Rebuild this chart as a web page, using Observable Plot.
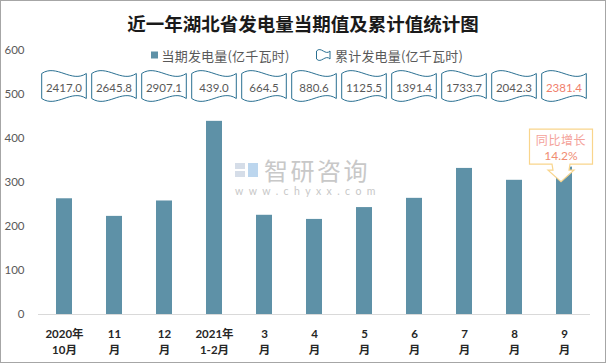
<!DOCTYPE html>
<html><head><meta charset="utf-8">
<script src="https://cdn.jsdelivr.net/npm/d3@7"></script>
<script src="https://cdn.jsdelivr.net/npm/@observablehq/plot@0.6"></script>
<style>body{margin:0;background:#fff} #chart svg{display:block}</style>
</head><body><div id="chart"></div>
<script>
const months = ["2020年\n10月","11\n月","12\n月","2021年\n1-2月","3\n月","4\n月","5\n月","6\n月","7\n月","8\n月","9\n月"];
const current = [263, 223, 258, 439, 225.5, 216.1, 243, 264, 332, 305, 335];
const cumulative = [2417.0, 2645.8, 2907.1, 439.0, 664.5, 880.6, 1125.5, 1391.4, 1733.7, 2042.3, 2381.4];
const highlightIndex = 10;
const yTicks = [0, 100, 200, 300, 400, 500, 600];
const titleText = "近一年湖北省发电量当期值及累计值统计图";
const legendCurrent = "当期发电量(亿千瓦时)";
const legendCumulative = "累计发电量(亿千瓦时)";
const calloutLabel = "同比增长";
const calloutValue = "14.2%";
const watermarkMain = "智研咨询";
const watermarkSub = "www.chyxx.com";

const data = months.map((m, i) => ({month: m, current: current[i], cumulative: cumulative[i], i}));

const barColor = "#5E91A7";
const waveStroke = "#2A7092";
const numFont = "Lato, 'Noto Sans CJK SC', sans-serif";
const cjkFont = "'Noto Sans CJK SC', Lato, sans-serif";

function wavePath(x0, x1, top, bottom, k) {
  const w = x1 - x0;
  return `M${x0},${top} C${x0 + w/3},${top - k} ${x0 + 2*w/3},${top + k} ${x1},${top}` +
         ` L${x1},${bottom} C${x0 + 2*w/3},${bottom - k} ${x0 + w/3},${bottom + k} ${x0},${bottom} Z`;
}

function overlay(index, scales, values, dims) {
  const sx = scales.x, sy = scales.y;
  const bw = typeof sx.bandwidth === "function" ? sx.bandwidth() : sx.bandwidth;
  const step = bw / (1 - 0.69);
  const g = d3.create("svg:g").attr("text-anchor", "start");
  // outer border
  g.append("rect").attr("x", 0.5).attr("y", 0.5).attr("width", dims.width - 1).attr("height", dims.height - 1)
    .attr("fill", "none").attr("stroke", "#a6a6a6");
  // title
  g.append("text").attr("x", 303).attr("y", 23).attr("text-anchor", "middle").attr("dominant-baseline", "central")
    .attr("font-family", cjkFont).attr("font-weight", "bold").attr("font-size", 18.5).attr("fill", "#1a1a1a")
    .text(titleText);
  // legend
  g.append("rect").attr("x", 151).attr("y", 51.5).attr("width", 7).attr("height", 7).attr("fill", barColor);
  g.append("text").attr("x", 161.5).attr("y", 55).attr("text-anchor", "start").attr("dominant-baseline", "central").attr("font-family", cjkFont)
    .attr("font-size", 13).attr("letter-spacing", 0.2).attr("fill", "#595959").text(legendCurrent);
  g.append("path").attr("d", wavePath(316.5, 330, 51, 59, 5)).attr("fill", "#fff").attr("stroke", waveStroke).attr("stroke-width", 1);
  g.append("text").attr("x", 335).attr("y", 55).attr("text-anchor", "start").attr("dominant-baseline", "central").attr("font-family", cjkFont)
    .attr("font-size", 13).attr("letter-spacing", 0.2).attr("fill", "#595959").text(legendCumulative);
  // cumulative wave boxes
  for (const d of data) {
    const c = sx(d.month) + bw / 2;
    const x0 = c - step / 2 + 3.5, x1 = c + step / 2 - 3.5;
    g.append("path").attr("d", wavePath(x0, x1, 73.5, 98.5, 10)).attr("fill", "#fff")
      .attr("stroke", waveStroke).attr("stroke-width", 1);
    g.append("text").attr("x", c).attr("y", 87).attr("text-anchor", "middle").attr("dominant-baseline", "central")
      .attr("font-family", numFont).attr("font-size", 11.5)
      .attr("fill", d.i === highlightIndex ? "#F0806C" : "#595959").text(d.cumulative.toFixed(1));
  }
  // callout on highlighted bar
  const h = data[highlightIndex];
  const cx = sx(h.month) + bw / 2 - 3;
  const tip = sy(h.current) + 15;
  const bTop = tip - 52.5, bBot = tip - 17.5, half = 31.5;
  const p = [
    [cx - half, bTop], [cx + half, bTop], [cx + half, bBot], [cx + 9, bBot], [cx + 8, bBot + 6], [cx + 13, bBot + 6],
    [cx, tip], [cx - 13, bBot + 6], [cx - 8, bBot + 6], [cx - 9, bBot], [cx - half, bBot]
  ];
  g.append("path").attr("d", "M" + p.map(q => q.join(",")).join("L") + "Z").attr("fill", "#fff")
    .attr("stroke", "#F9D58C").attr("stroke-width", 1.2);
  g.append("text").attr("x", cx).attr("y", bTop + 10).attr("text-anchor", "middle").attr("dominant-baseline", "central")
    .attr("font-family", cjkFont).attr("font-size", 12).attr("letter-spacing", 0.6).attr("fill", "#F4A29A").text(calloutLabel);
  g.append("text").attr("x", cx).attr("y", bTop + 26).attr("text-anchor", "middle").attr("dominant-baseline", "central")
    .attr("font-family", numFont).attr("font-size", 12).attr("fill", "#F08C72").text(calloutValue);
  return g.node();
}

function watermark(index, scales, values, dims) {
  const g = d3.create("svg:g").attr("text-anchor", "start");
  g.append("rect").attr("x", 235).attr("y", 163).attr("width", 10).attr("height", 6).attr("fill", "#d5dde8");
  g.append("rect").attr("x", 235).attr("y", 171).attr("width", 10).attr("height", 6).attr("fill", "#d5dde8");
  g.append("rect").attr("x", 248).attr("y", 163).attr("width", 10).attr("height", 14).attr("fill", "#bcd6ee");
  g.append("text").attr("x", 264).attr("y", 169).attr("text-anchor", "start").attr("dominant-baseline", "central").attr("font-family", cjkFont)
    .attr("font-size", 24).attr("letter-spacing", 2.5).attr("fill", "#c8c8c8").text(watermarkMain);
  g.append("text").attr("x", 235).attr("y", 191).attr("text-anchor", "start").attr("dominant-baseline", "central").attr("font-family", numFont)
    .attr("font-size", 10.5).attr("letter-spacing", 5.4).attr("fill", "#c8c8c8").text(watermarkSub);
  return g.node();
}

const chart = Plot.plot({
  width: 606,
  height: 363,
  marginTop: 50,
  marginBottom: 49,
  marginLeft: 38,
  marginRight: 16,
  style: {fontFamily: numFont, background: "#fff"},
  x: {domain: months, paddingInner: 0.69, paddingOuter: 0.345, label: null},
  y: {domain: [0, 600], label: null},
  marks: [
    watermark,
    Plot.axisY({ticks: yTicks, tickSize: 0, tickPadding: 14, fontSize: 11.5, fill: "#595959", label: null}),
    Plot.axisX({tickSize: 0, tickPadding: 12, fontSize: 11.5, fontWeight: "bold", lineHeight: 1.4, fill: "#262626", label: null}),
    Plot.ruleY([0], {stroke: "#d9d9d9", strokeWidth: 1}),
    Plot.barY(data, {x: "month", y: "current", fill: barColor}),
    overlay
  ]
});
document.getElementById("chart").appendChild(chart);
</script>
</body></html>
